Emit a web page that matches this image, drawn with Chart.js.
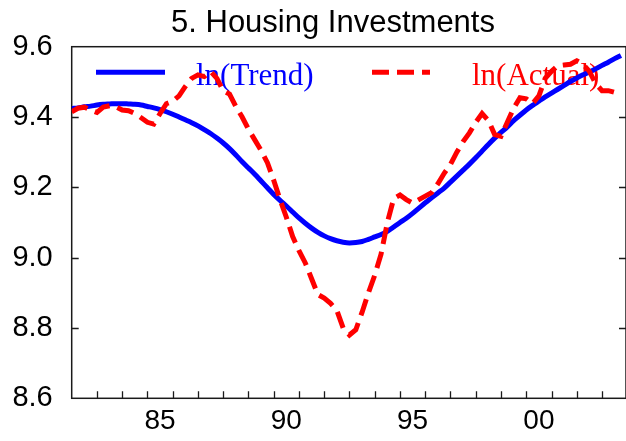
<!DOCTYPE html>
<html><head><meta charset="utf-8">
<script src="https://cdn.jsdelivr.net/npm/chart.js@4/dist/chart.umd.min.js"></script>
<style>html,body{margin:0;padding:0;background:#fff}#wrap{width:626px;height:441px}</style>
</head><body><div id="wrap"><canvas id="c" width="626" height="441"></canvas></div>
<script>
const titleText = '5. Housing Investments';
const startYear = 1982;       // first quarter of the data (1982Q1)
const periodsPerYear = 4;     // quarterly observations
const trendLabel = 'ln(Trend)';
const actualLabel = 'ln(Actual)';

const trendValues = [
  9.424, 9.426, 9.429, 9.431,  9.434, 9.436, 9.437, 9.438,
  9.438, 9.437, 9.436, 9.434,  9.430, 9.426, 9.421, 9.415,
  9.408, 9.400, 9.392, 9.384,  9.375, 9.364, 9.353, 9.340,
  9.326, 9.310, 9.292, 9.273,  9.255, 9.237, 9.218, 9.199,
  9.180, 9.163, 9.147, 9.130,  9.113, 9.098, 9.084, 9.072,
  9.062, 9.054, 9.048, 9.044,  9.042, 9.043, 9.046, 9.052,
  9.059, 9.066, 9.075, 9.087,  9.100, 9.112, 9.126, 9.141,
  9.156, 9.170, 9.184, 9.198,  9.215, 9.232, 9.249, 9.266,
  9.284, 9.303, 9.322, 9.340,  9.356, 9.372, 9.390, 9.405,
  9.420, 9.433, 9.445, 9.457,  9.468, 9.479, 9.490, 9.501,
  9.511, 9.520, 9.528, 9.537,  9.547, 9.556, 9.566, 9.575
];

const actualValues = [
  9.415, 9.425, 9.428, 9.420,  9.413, 9.428, 9.432, 9.429,
  9.420, 9.418, 9.410, 9.398,  9.385, 9.380, 9.410, 9.438,
  9.445, 9.460, 9.487, 9.510,  9.520, 9.515, 9.530, 9.510,
  9.475, 9.465, 9.430, 9.400,  9.365, 9.335, 9.305, 9.270,
  9.220, 9.165, 9.115, 9.060,  9.020, 8.985, 8.940, 8.895,
  8.885, 8.870, 8.850, 8.800,  8.780, 8.795, 8.845, 8.900,
  8.950, 9.010, 9.100, 9.168,  9.178, 9.165, 9.155, 9.165,
  9.175, 9.185, 9.210, 9.240,  9.265, 9.300, 9.330, 9.355,
  9.385, 9.410, 9.390, 9.350,  9.345, 9.385, 9.425, 9.455,
  9.452, 9.438, 9.460, 9.510,  9.530, 9.546, 9.548, 9.550,
  9.560, 9.550, 9.530, 9.495,  9.475, 9.475, 9.470
];

const xTickYears = [1985, 1990, 1995, 2000];
const xTickLabels = ['85', '90', '95', '00'];
const minorTickYears = [1983,1984,1985,1986,1987,1988,1989,1990,1991,1992,1993,1994,1995,1996,1997,1998,1999,2000,2001,2002,2003];
const yTickValues = [8.6, 8.8, 9.0, 9.2, 9.4, 9.6];

const toPoints = vals => vals.map((v, i) => ({x: startYear + i / periodsPerYear, y: v}));

const BLUE = '#0000ff', RED = '#ff0000';
const FRAME = '#1a1a1a';
const SANS = '"Liberation Sans", Arial, sans-serif';

const decorPlugin = {
  id: 'decor',
  beforeDatasetsDraw(chart) {
    const {ctx, chartArea: a, scales: {x: xs, y: ys}} = chart;
    ctx.save();
    ctx.strokeStyle = FRAME; ctx.lineWidth = 1.5; ctx.setLineDash([]);
    ctx.strokeRect(a.left, a.top, a.right - a.left, a.bottom - a.top);
    ctx.beginPath();
    minorTickYears.forEach(yr => {
      const px = Math.round(xs.getPixelForValue(yr)) + 0.5;
      ctx.moveTo(px, a.bottom); ctx.lineTo(px, a.bottom - 7);
    });
    yTickValues.slice(1, -1).forEach(v => {
      const py = Math.round(ys.getPixelForValue(v)) + 0.5;
      ctx.moveTo(a.left, py); ctx.lineTo(a.left + 7, py);
      ctx.moveTo(a.right, py); ctx.lineTo(a.right - 7, py);
    });
    ctx.lineWidth = 1.3; ctx.stroke();

    ctx.fillStyle = '#000';
    ctx.font = '31px ' + SANS;
    ctx.textAlign = 'center'; ctx.textBaseline = 'alphabetic';
    ctx.fillText(titleText, 333, 32);

    const ds = chart.data.datasets;
    const ly = a.top + 25.6, tb = a.top + 37.8;
    ctx.font = '31px "Liberation Serif", "Times New Roman", serif';
    ctx.textAlign = 'left';
    ctx.beginPath(); ctx.strokeStyle = ds[0].borderColor; ctx.lineWidth = 5; ctx.setLineDash([]);
    ctx.moveTo(a.left + 24.3, ly); ctx.lineTo(a.left + 93.3, ly); ctx.stroke();
    ctx.fillStyle = ds[0].borderColor; ctx.fillText(ds[0].label, a.left + 124.3, tb);
    ctx.beginPath(); ctx.strokeStyle = ds[1].borderColor; ctx.lineWidth = 5; ctx.setLineDash(ds[1].borderDash);
    ctx.moveTo(a.left + 300.3, ly); ctx.lineTo(a.left + 358.3, ly); ctx.stroke();
    ctx.setLineDash([]);
    ctx.fillStyle = ds[1].borderColor; ctx.fillText(ds[1].label, a.left + 400.3, tb);
    ctx.restore();
  }
};

new Chart(document.getElementById('c'), {
  type: 'line',
  data: {
    datasets: [
      {label: trendLabel, data: toPoints(trendValues), borderColor: BLUE, borderWidth: 5,
       pointRadius: 0, cubicInterpolationMode: 'monotone', fill: false, order: 1},
      {label: actualLabel, data: toPoints(actualValues), borderColor: RED, borderWidth: 5,
       borderDash: [17, 8], pointRadius: 0, tension: 0, fill: false, order: 0}
    ]
  },
  options: {
    responsive: false, animation: false, devicePixelRatio: 1,
    layout: {padding: {left: 3, right: -1, top: 46.7, bottom: 0}},
    plugins: {
      legend: {display: false}, tooltip: {enabled: false}, title: {display: false}
    },
    scales: {
      x: {
        type: 'linear', min: 1982, max: 2003.95,
        grid: {display: false, drawTicks: false},
        border: {display: false},
        afterBuildTicks: s => { s.ticks = xTickYears.map(y => ({value: y + 0.5})); },
        afterFit: s => { s.height = 42.7; },
        ticks: {
          autoSkip: false, maxRotation: 0, padding: 6, color: '#000',
          font: {family: SANS, size: 28},
          callback: v => { const i = xTickYears.indexOf(Math.floor(v)); return i >= 0 ? xTickLabels[i] : ''; }
        }
      },
      y: {
        min: 8.6, max: 9.6,
        grid: {display: false, drawTicks: false},
        border: {display: false},
        afterBuildTicks: s => { s.ticks = yTickValues.map(v => ({value: v})); },
        afterFit: s => { s.width = 68.7; },
        ticks: {
          padding: 19, color: '#000',
          font: {family: SANS, size: 29},
          callback: v => Number(v).toFixed(1)
        }
      }
    }
  },
  plugins: [decorPlugin]
});
</script>
</body></html>
